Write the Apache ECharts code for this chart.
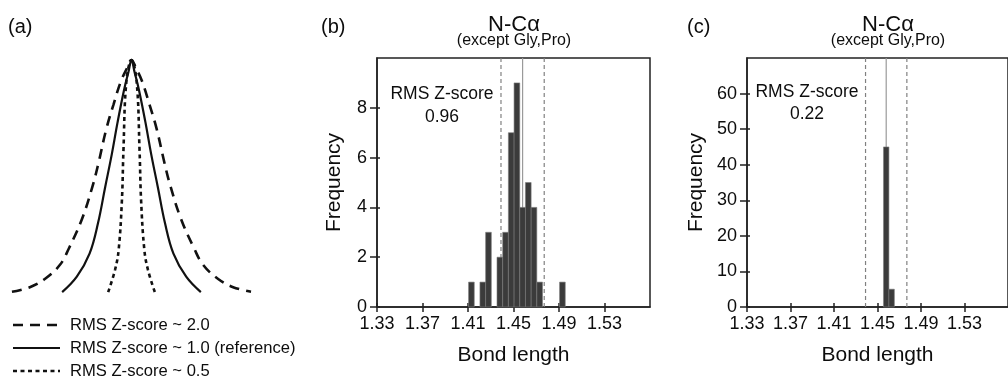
<!DOCTYPE html>
<html>
<head>
<meta charset="utf-8">
<script src="https://cdn.jsdelivr.net/npm/echarts@6/dist/echarts.min.js"></script>
<style>
html,body{margin:0;padding:0;background:#fff;}
#chart{width:1008px;height:382px;}
</style>
</head>
<body>
<div id="chart"></div>
<script>
// ---------- data ----------
// Panel (a): schematic distributions, x = deviation (arbitrary units), y = relative height
const curveRms20 = [[-4.0,0.005],[-3.4,0.025],[-2.9,0.06],[-2.4,0.12],[-2.1,0.19],[-1.65,0.32],[-1.3,0.46],[-1.1,0.56],[-0.85,0.70],[-0.6,0.81],[-0.35,0.91],[-0.15,0.965],[0,1],[0.15,0.965],[0.35,0.91],[0.6,0.81],[0.85,0.70],[1.1,0.56],[1.3,0.46],[1.65,0.32],[2.1,0.19],[2.4,0.12],[2.9,0.06],[3.4,0.025],[4.0,0.005]];
const curveRms10 = [[-2.32,0.004],[-1.83,0.07],[-1.4,0.17],[-1.12,0.30],[-0.88,0.455],[-0.66,0.595],[-0.47,0.73],[-0.26,0.865],[-0.1,0.95],[0,1],[0.1,0.95],[0.26,0.865],[0.47,0.73],[0.66,0.595],[0.88,0.455],[1.12,0.30],[1.4,0.17],[1.83,0.07],[2.32,0.004]];
const curveRms05 = [[-0.78,0.004],[-0.55,0.1],[-0.43,0.185],[-0.32,0.4],[-0.27,0.61],[-0.17,0.91],[0,1],[0.17,0.91],[0.27,0.61],[0.32,0.4],[0.43,0.185],[0.55,0.1],[0.78,0.004]];
const legendNames = ['RMS Z-score ~ 2.0','RMS Z-score ~ 1.0 (reference)','RMS Z-score ~ 0.5'];

// Panels (b),(c): histograms of N-CA bond length
const binWidth = 0.005;
const binCentersB = [1.413,1.423,1.428,1.438,1.443,1.448,1.453,1.458,1.463,1.468,1.473,1.493];
const countsB     = [1,    1,    3,    2,    3,    7,    9,    4,    5,    4,    1,    1];
const binCentersC = [1.458,1.463];
const countsC     = [45,   5];
const refMean = 1.458, refLow = 1.439, refHigh = 1.477;
const rmsB = '0.96', rmsC = '0.22';

const xMin = 1.33, xMax = 1.57, xStep = 0.04;
const xTickValues = [1.33,1.37,1.41,1.45,1.49,1.53];
const yMaxB = 10, yStepB = 2, yTicksB = [0,2,4,6,8];
const yMaxC = 70, yStepC = 10, yTicksC = [0,10,20,30,40,50,60];

// ---------- chart ----------
const FONT = '"Liberation Sans", Arial, Helvetica, sans-serif';
const TXT = '#0d0d0d';
const chart = echarts.init(document.getElementById('chart'), null, {renderer:'canvas'});

const curveStyles = [
  {color:'#111', width:2.6, dash:[10,7]},
  {color:'#111', width:2.2, dash:null},
  {color:'#111', width:2.6, dash:[4,3.5]}
];
const curves = [curveRms20, curveRms10, curveRms05];

function histItem(params, api){
  const c = api.value(0), v = api.value(1);
  const p0 = api.coord([c - binWidth/2, 0]);
  const p1 = api.coord([c + binWidth/2, v]);
  return {type:'rect', shape:{x:p0[0], y:p1[1], width:p1[0]-p0[0], height:p0[1]-p1[1]},
          style:{fill:'#3b3b3b', stroke:'#7a7a7a', lineWidth:0.6}};
}
function zip(a,b){ return a.map((v,i)=>[v,b[i]]); }

function valueXAxis(gi, main){
  return {
    type:'value', gridIndex:gi, position:'bottom', offset:0, min:xMin, max:xMax, interval:xStep,
    axisLine:{show:main, onZero:false, lineStyle:{color:'#222', width:1.5}},
    axisTick:{show:true, inside:!main, length: main?5:4, customValues:xTickValues, lineStyle:{color:'#222', width:1.5}},
    axisLabel:{show:main, customValues:xTickValues, formatter:v=>Number(v).toFixed(2), fontSize:18, color:TXT, fontFamily:FONT, margin:8},
    splitLine:{show:false},
    name: main ? 'Bond length' : '', nameLocation:'middle', nameGap:38,
    nameTextStyle:{fontSize:21, color:TXT, fontFamily:FONT}
  };
}
function valueYAxis(gi, max, step, ticks, main, gap){
  return {
    type:'value', gridIndex:gi, position:'left', offset:0, min:0, max:max, interval:step,
    axisLine:{show:main, onZero:false, lineStyle:{color:'#222', width:1.5}},
    axisTick:{show:true, inside:!main, length: main?7:3, customValues:ticks, lineStyle:{color:'#222', width:1.5}},
    axisLabel:{show:main, customValues:ticks, fontSize:18, color:TXT, fontFamily:FONT, margin:10},
    splitLine:{show:false},
    name: main ? 'Frequency' : '', nameLocation:'middle', nameGap:gap, nameRotate:90,
    nameTextStyle:{fontSize:21, color:TXT, fontFamily:FONT}
  };
}
function vline(xi, yi, x, ymax, dashed){
  return {type:'line', xAxisIndex:xi, yAxisIndex:yi, data:[[x,0],[x,ymax]], symbol:'none', silent:true, z:1,
          lineStyle:{color: dashed?'#808080':'#9a9a9a', width:1.2, type: dashed?[4,3]:'solid'}};
}

// legend drawn by hand (line sample + text)
const legendGraphics = [];
legendNames.forEach((nm, i) => {
  const y = 325 + i*23, s = curveStyles[i];
  legendGraphics.push({type:'line', shape:{x1:13, y1:y, x2:60, y2:y},
    style:{stroke:s.color, lineWidth:s.width, lineDash:s.dash}});
  legendGraphics.push({type:'text', x:70, y:y, style:{text:nm, fontSize:16.6, fill:TXT, fontFamily:FONT, verticalAlign:'middle'}});
});

const option = {
  animation:false,
  backgroundColor:'#fff',
  textStyle:{fontFamily:FONT},
  grid:[
    {left:0, top:60, width:263, bottom:89, show:false},
    {left:377, top:58, width:273, bottom:75, show:true, borderColor:'#222', borderWidth:1.5},
    {left:747, top:58, right:-11, bottom:75, show:true, borderColor:'#222', borderWidth:1.5}
  ],
  xAxis:[
    {type:'value', gridIndex:0, min:-4.4, max:4.4, show:false},
    valueXAxis(1, true), valueXAxis(1, false),
    valueXAxis(2, true), valueXAxis(2, false)
  ],
  yAxis:[
    {type:'value', gridIndex:0, min:0, max:1, show:false},
    valueYAxis(1, yMaxB, yStepB, yTicksB, true, 32), valueYAxis(1, yMaxB, yStepB, yTicksB, false, 0),
    valueYAxis(2, yMaxC, yStepC, yTicksC, true, 40), valueYAxis(2, yMaxC, yStepC, yTicksC, false, 0)
  ],
  series:[
    ...curves.map((d,i)=>({name:legendNames[i], type:'line', xAxisIndex:0, yAxisIndex:0, data:d, smooth:0.4, symbol:'none', clip:false, silent:true,
       lineStyle:{color:curveStyles[i].color, width:curveStyles[i].width, type:curveStyles[i].dash || 'solid'}})),

    vline(1,1,refLow,yMaxB,true), vline(1,1,refHigh,yMaxB,true), vline(1,1,refMean,yMaxB,false),
    {type:'custom', xAxisIndex:1, yAxisIndex:1, renderItem:histItem, data:zip(binCentersB,countsB), encode:{x:0,y:1}, z:3, silent:true},

    vline(3,3,refLow,yMaxC,true), vline(3,3,refHigh,yMaxC,true), vline(3,3,refMean,yMaxC,false),
    {type:'custom', xAxisIndex:3, yAxisIndex:3, renderItem:histItem, data:zip(binCentersC,countsC), encode:{x:0,y:1}, z:3, silent:true}
  ],
  graphic:[
    {type:'text', left:8, top:17, style:{text:'(a)', fontSize:20, fill:TXT, fontFamily:FONT}},
    {type:'text', left:321, top:17, style:{text:'(b)', fontSize:20, fill:TXT, fontFamily:FONT}},
    {type:'text', left:687, top:17, style:{text:'(c)', fontSize:20, fill:TXT, fontFamily:FONT}},
    {type:'text', x:514, y:25, style:{text:'N-C\u03B1', fontSize:22, fill:TXT, fontFamily:FONT, align:'center', verticalAlign:'middle'}},
    {type:'text', x:514, y:41, style:{text:'(except Gly,Pro)', fontSize:16, fill:TXT, fontFamily:FONT, align:'center', verticalAlign:'middle'}},
    {type:'text', x:888, y:25, style:{text:'N-C\u03B1', fontSize:22, fill:TXT, fontFamily:FONT, align:'center', verticalAlign:'middle'}},
    {type:'text', x:888, y:41, style:{text:'(except Gly,Pro)', fontSize:16, fill:TXT, fontFamily:FONT, align:'center', verticalAlign:'middle'}},
    {type:'text', x:442, y:94, style:{text:'RMS Z-score', fontSize:17.5, fill:TXT, fontFamily:FONT, align:'center', verticalAlign:'middle'}},
    {type:'text', x:442, y:117, style:{text:rmsB, fontSize:17.5, fill:TXT, fontFamily:FONT, align:'center', verticalAlign:'middle'}},
    {type:'text', x:807, y:92, style:{text:'RMS Z-score', fontSize:17.5, fill:TXT, fontFamily:FONT, align:'center', verticalAlign:'middle'}},
    {type:'text', x:807, y:114, style:{text:rmsC, fontSize:17.5, fill:TXT, fontFamily:FONT, align:'center', verticalAlign:'middle'}},
    ...legendGraphics
  ]
};
chart.setOption(option);
</script>
</body>
</html>
